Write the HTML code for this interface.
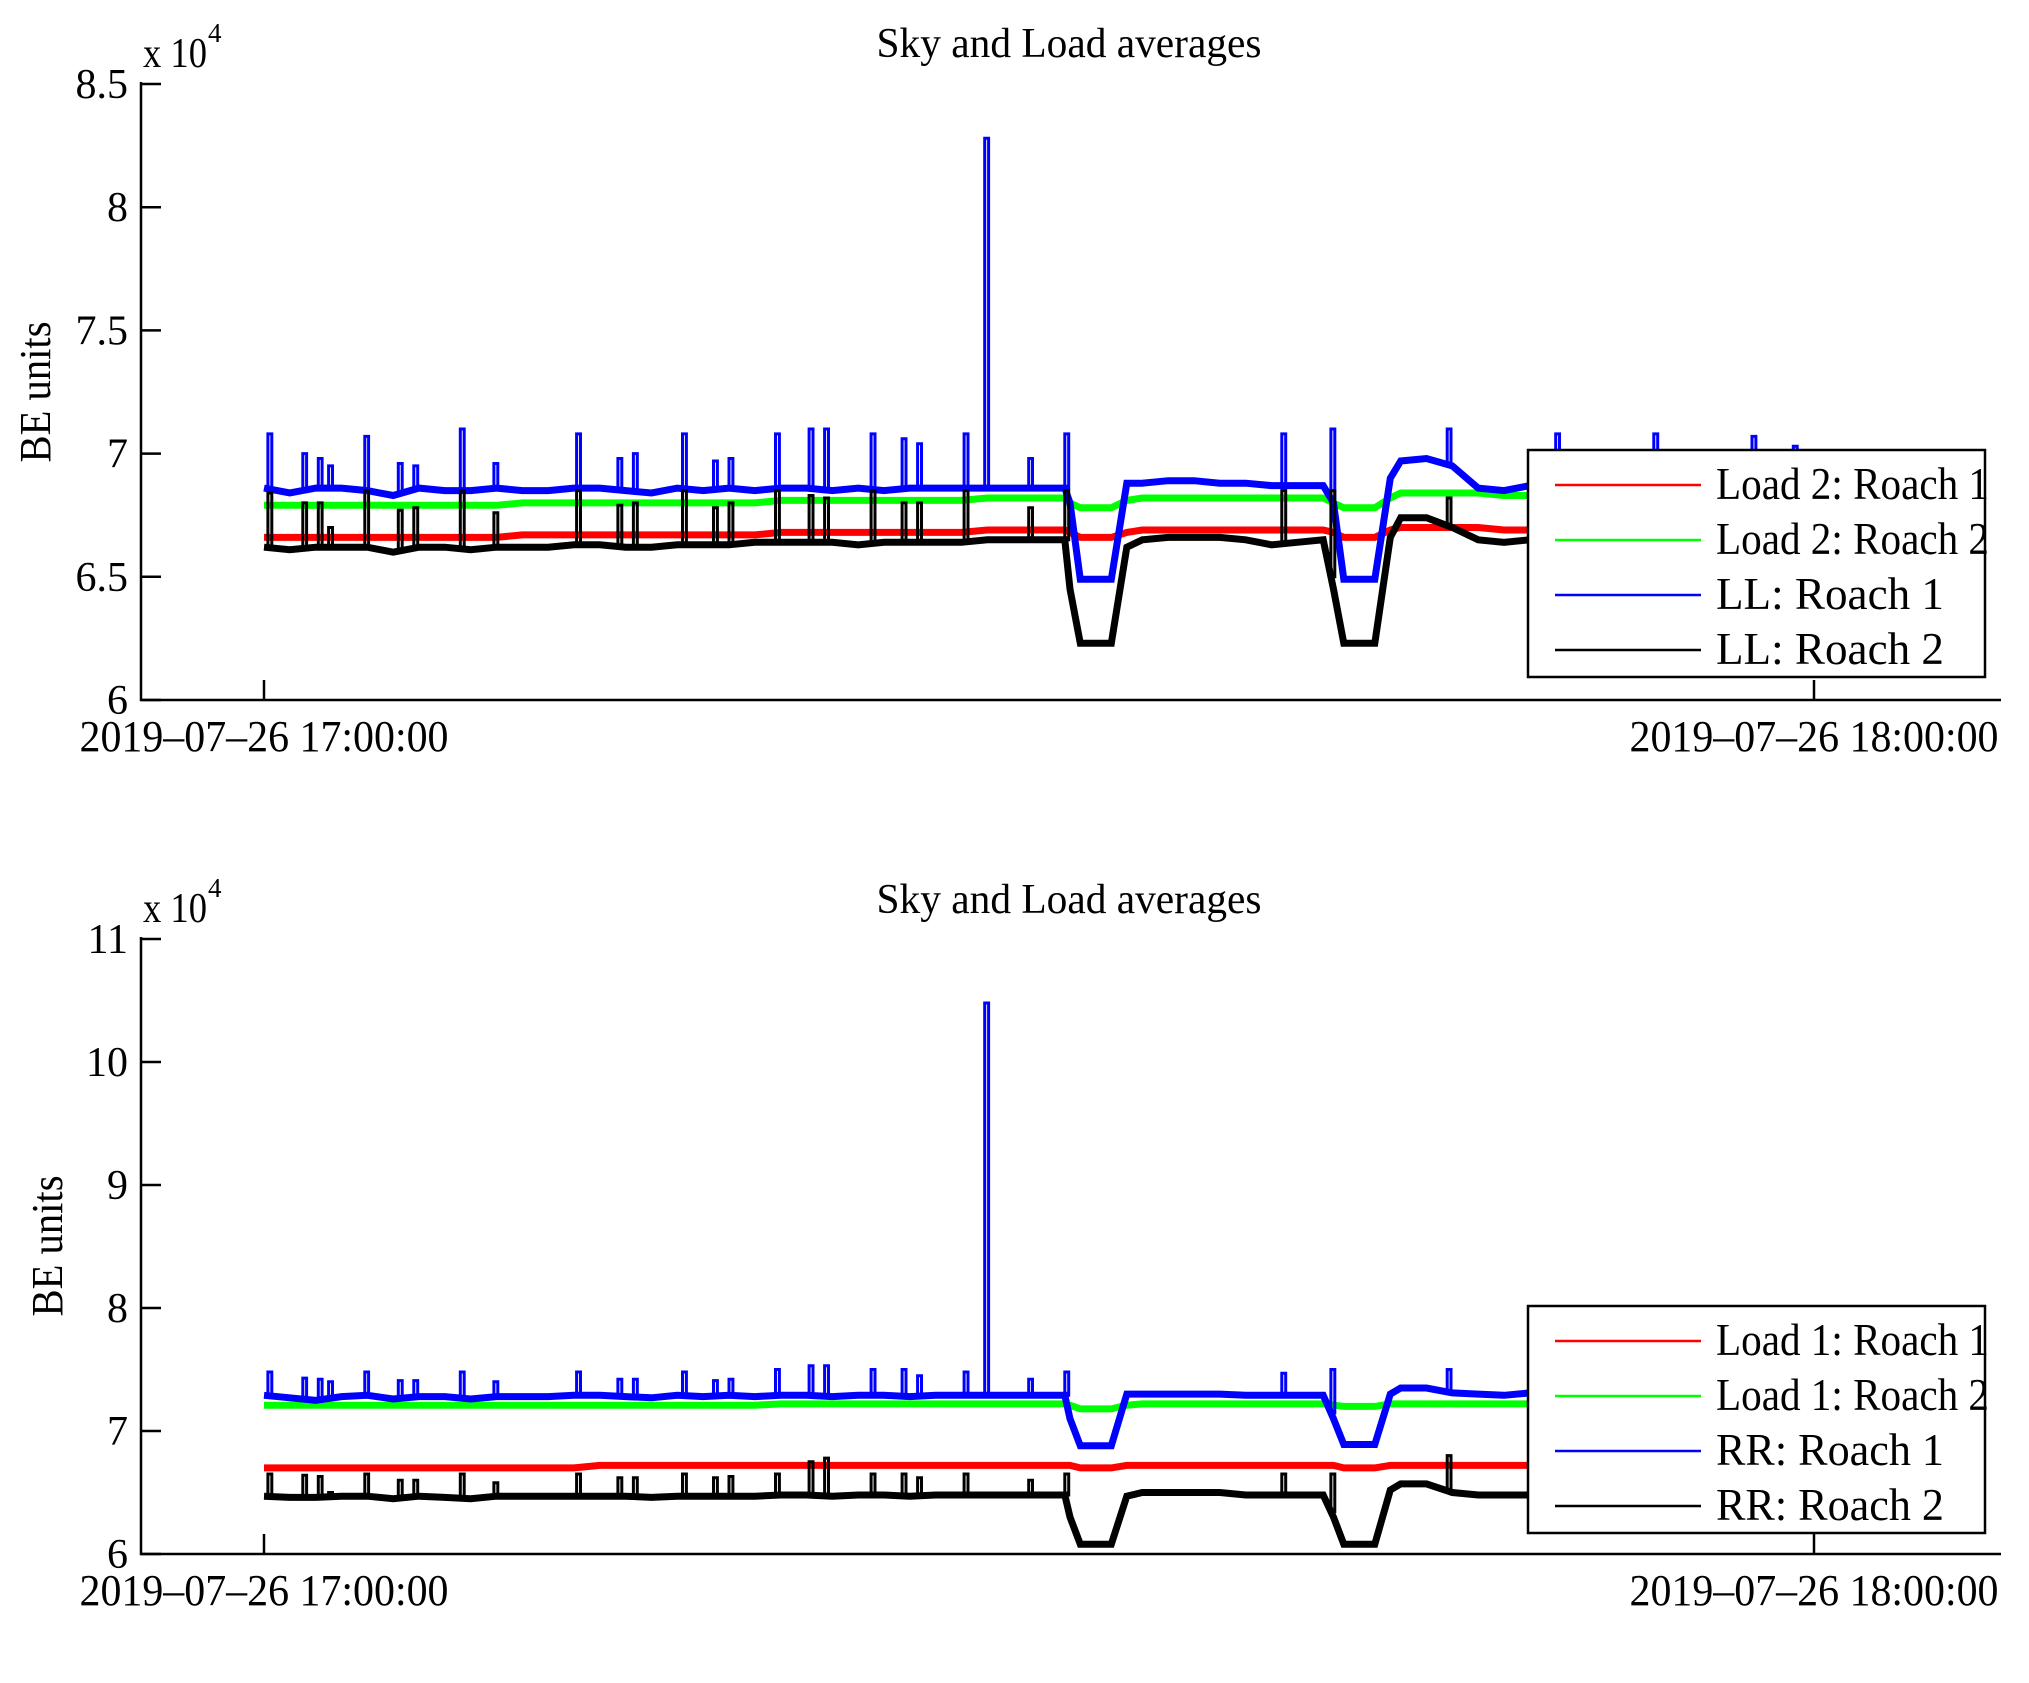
<!DOCTYPE html>
<html><head><meta charset="utf-8"><style>
html,body{margin:0;padding:0;background:#fff}
svg{display:block}
text{font-family:"Liberation Serif",serif;fill:#000}
</style></head><body>
<svg id="fig" width="2029" height="1683" viewBox="0 0 2029 1683"></svg>
<script>
// ---- shared time axis (minutes after 17:00) ----
const times = [0,1,2,3,4,5,6,7,8,9,10,11,12,13,14,15,16,17,18,19,20,21,22,23,24,25,26,27,28,29,30,31,
 31.2,31.6,32.8,33.4, 34,35,36,37,38,39,40,41, 41.4,41.8,43.0,43.6,
 44,45,46,47,48,49,50,51,52,53,54,55,56,57,58,59, 59.3];
const spikeTimes = [0.15,1.5,2.1,2.5,3.9,5.2,5.8,7.6,8.9,12.1,13.7,14.3,16.2,17.4,18.0,19.8,21.1,21.7,23.5,24.7,25.3,27.1,27.9,29.6,31.0,39.4,41.3,45.8,50.0,53.8,57.6,59.2];
const xTickLabels = ["2019\u201307\u201326 17:00:00","2019\u201307\u201326 18:00:00"];
const xTickValues = [0,60];

// ---- top panel values (x 10^4) ----
const topRed = [6.66,6.66,6.66,6.66,6.66,6.66,6.66,6.66,6.66,6.66,6.67,6.67,6.67,6.67,6.67,6.67,6.67,6.67,6.67,6.67,6.68,6.68,6.68,6.68,6.68,6.68,6.68,6.68,6.69,6.69,6.69,6.69,
 6.68,6.66,6.66,6.68, 6.69,6.69,6.69,6.69,6.69,6.69,6.69,6.69, 6.68,6.66,6.66,6.69,
 6.70,6.70,6.70,6.70,6.69,6.69,6.69,6.69,6.69,6.69,6.69,6.69,6.69,6.69,6.69,6.69, 6.69];
const topGreen = [6.79,6.79,6.79,6.79,6.79,6.79,6.79,6.79,6.79,6.79,6.80,6.80,6.80,6.80,6.80,6.80,6.80,6.80,6.80,6.80,6.81,6.81,6.81,6.81,6.81,6.81,6.81,6.81,6.82,6.82,6.82,6.82,
 6.80,6.78,6.78,6.81, 6.82,6.82,6.82,6.82,6.82,6.82,6.82,6.82, 6.80,6.78,6.78,6.82,
 6.84,6.84,6.84,6.84,6.83,6.83,6.83,6.83,6.83,6.83,6.83,6.83,6.83,6.83,6.83,6.83, 6.83];
const topBlue = [6.86,6.84,6.86,6.86,6.85,6.83,6.86,6.85,6.85,6.86,6.85,6.85,6.86,6.86,6.85,6.84,6.86,6.85,6.86,6.85,6.86,6.86,6.85,6.86,6.85,6.86,6.86,6.86,6.86,6.86,6.86,6.86,
 6.80,6.49,6.49,6.88, 6.88,6.89,6.89,6.88,6.88,6.87,6.87,6.87, 6.80,6.49,6.49,6.90,
 6.97,6.98,6.95,6.86,6.85,6.87,6.86,6.88,6.86,6.86,6.87,6.86,6.86,6.85,6.86,6.86, 6.86];
const topBlack = [6.62,6.61,6.62,6.62,6.62,6.60,6.62,6.62,6.61,6.62,6.62,6.62,6.63,6.63,6.62,6.62,6.63,6.63,6.63,6.64,6.64,6.64,6.64,6.63,6.64,6.64,6.64,6.64,6.65,6.65,6.65,6.65,
 6.45,6.23,6.23,6.62, 6.65,6.66,6.66,6.66,6.65,6.63,6.64,6.65, 6.45,6.23,6.23,6.66,
 6.74,6.74,6.70,6.65,6.64,6.65,6.65,6.66,6.65,6.65,6.65,6.64,6.64,6.64,6.64,6.64, 6.64];
const topBlueSpikes = [7.08,7.00,6.98,6.95,7.07,6.96,6.95,7.10,6.96,7.08,6.98,7.00,7.08,6.97,6.98,7.08,7.10,7.10,7.08,7.06,7.04,7.08,8.28,6.98,7.08,7.08,7.10,7.10,7.08,7.08,7.07,7.03];
const topBlackSpikes = [6.84,6.80,6.80,6.70,6.85,6.77,6.78,6.85,6.76,6.85,6.79,6.80,6.85,6.78,6.80,6.85,6.83,6.82,6.85,6.80,6.80,6.85,6.65,6.78,6.85,6.85,6.85,6.82,6.70,6.70,6.70,6.68];

// ---- bottom panel values (x 10^4) ----
const botRed = [6.70,6.70,6.70,6.70,6.70,6.70,6.70,6.70,6.70,6.70,6.70,6.70,6.70,6.72,6.72,6.72,6.72,6.72,6.72,6.72,6.72,6.72,6.72,6.72,6.72,6.72,6.72,6.72,6.72,6.72,6.72,6.72,
 6.72,6.70,6.70,6.72, 6.72,6.72,6.72,6.72,6.72,6.72,6.72,6.72, 6.72,6.70,6.70,6.72,
 6.72,6.72,6.72,6.72,6.72,6.72,6.72,6.72,6.72,6.72,6.72,6.72,6.72,6.72,6.73,6.74, 6.74];
const botGreen = [7.21,7.21,7.21,7.21,7.21,7.21,7.21,7.21,7.21,7.21,7.21,7.21,7.21,7.21,7.21,7.21,7.21,7.21,7.21,7.21,7.22,7.22,7.22,7.22,7.22,7.22,7.22,7.22,7.22,7.22,7.22,7.22,
 7.21,7.18,7.18,7.21, 7.22,7.22,7.22,7.22,7.22,7.22,7.22,7.22, 7.21,7.20,7.20,7.22,
 7.22,7.22,7.22,7.22,7.22,7.22,7.22,7.22,7.22,7.22,7.22,7.22,7.22,7.22,7.22,7.22, 7.22];
const botBlue = [7.29,7.27,7.25,7.28,7.29,7.26,7.28,7.28,7.26,7.28,7.28,7.28,7.29,7.29,7.28,7.27,7.29,7.28,7.29,7.28,7.29,7.29,7.28,7.29,7.29,7.28,7.29,7.29,7.29,7.29,7.29,7.29,
 7.10,6.88,6.88,7.30, 7.30,7.30,7.30,7.30,7.29,7.29,7.29,7.29, 7.10,6.89,6.89,7.30,
 7.35,7.35,7.31,7.30,7.29,7.31,7.32,7.31,7.31,7.31,7.30,7.31,7.31,7.31,7.31,7.31, 7.31];
const botBlack = [6.47,6.46,6.46,6.47,6.47,6.45,6.47,6.46,6.45,6.47,6.47,6.47,6.47,6.47,6.47,6.46,6.47,6.47,6.47,6.47,6.48,6.48,6.47,6.48,6.48,6.47,6.48,6.48,6.48,6.48,6.48,6.48,
 6.30,6.08,6.08,6.47, 6.50,6.50,6.50,6.50,6.48,6.48,6.48,6.48, 6.30,6.08,6.08,6.52,
 6.57,6.57,6.50,6.48,6.48,6.48,6.48,6.48,6.48,6.48,6.48,6.48,6.48,6.48,6.48,6.48, 6.48];
const botBlueSpikes = [7.48,7.43,7.42,7.40,7.48,7.41,7.41,7.48,7.40,7.48,7.42,7.42,7.48,7.41,7.42,7.50,7.53,7.53,7.50,7.50,7.45,7.48,10.48,7.42,7.48,7.47,7.50,7.50,7.42,7.40,7.40,7.38];
const botBlackSpikes = [6.65,6.64,6.63,6.50,6.65,6.60,6.60,6.65,6.58,6.65,6.62,6.62,6.65,6.62,6.63,6.65,6.75,6.78,6.65,6.65,6.62,6.65,6.48,6.60,6.65,6.65,6.65,6.80,6.58,6.56,6.56,6.55];

const topTicks = [6,6.5,7,7.5,8,8.5];
const topTickLabels = ["6","6.5","7","7.5","8","8.5"];
const botTicks = [6,7,8,9,10,11];
const botTickLabels = ["6","7","8","9","10","11"];
const topLegend = ["Load 2: Roach 1","Load 2: Roach 2","LL: Roach 1","LL: Roach 2"];
const botLegend = ["Load 1: Roach 1","Load 1: Roach 2","RR: Roach 1","RR: Roach 2"];
const colors = ["#ff0000","#00ff00","#0000ff","#000000"];

const NS = "http://www.w3.org/2000/svg";
const svg = document.getElementById("fig");
function mk(tag, attrs, parent){
  const e = document.createElementNS(NS, tag);
  for (const k in attrs) e.setAttribute(k, attrs[k]);
  (parent||svg).appendChild(e);
  return e;
}
const X0 = 264, PXMIN = 1550/60;
function xs(t){ return X0 + t*PXMIN; }
function interp(arr, t){
  for (let i=0;i<times.length-1;i++){
    if (t>=times[i] && t<=times[i+1]){
      const f=(t-times[i])/(times[i+1]-times[i]);
      return arr[i]+f*(arr[i+1]-arr[i]);
    }
  }
  return arr[arr.length-1];
}

function panel(p){
  const g = mk("g", {});
  
  
  const ys = v => p.yBot - (v - p.yMin) * p.pxPerUnit;
  const title = mk("text", {x:1069, y:p.titleY, "font-size":42, "text-anchor":"middle", textLength:385, lengthAdjust:"spacingAndGlyphs"}, g);
  title.textContent = "Sky and Load averages";
  
  
  const series = [p.red, p.green, p.blue, p.black];
  const sg = mk("g", {}, g);
  
  
  series.forEach((arr, si) => {
    let d = "";
    arr.forEach((v,i)=>{ d += (i?"L":"M") + xs(times[i]).toFixed(1) + " " + ys(v).toFixed(1); });
    const pl = mk("path", {d:d, fill:"none", stroke:colors[si], "stroke-width":7, "stroke-linejoin":"miter"}, sg);
    
    
  });
  [[p.blue,p.blueSpikes,2],[p.black,p.blackSpikes,3]].forEach(([base,sp,ci])=>{
    let d="";
    spikeTimes.forEach((t,i)=>{
      const b = ys(interp(base,t)), pk = ys(sp[i]);
      d += "M"+xs(t).toFixed(1)+" "+b.toFixed(1)+"V"+pk.toFixed(1)+"H"+xs(t+0.15).toFixed(1)+"V"+b.toFixed(1);
    });
    const sp2 = mk("path", {d:d, fill:"none", stroke:colors[ci], "stroke-width":3, "stroke-linecap":"square"}, sg);
    
    
  });
  const ax = mk("path", {d:"M141 "+(p.yTop-2)+"V"+p.yBot+"H2001", fill:"none", stroke:"#000", "stroke-width":2.5}, g);
  
  
  p.ticks.forEach((v,i)=>{
    const y = ys(v);
    const tk = mk("line", {x1:141, x2:161, y1:y, y2:y, stroke:"#000", "stroke-width":2.5}, g);
    
    
    const lb = mk("text", {x:128, y:y+14, "font-size":42, "text-anchor":"end"}, g);
    lb.textContent = p.tickLabels[i];
    
    
  });
  xTickValues.forEach((t,i)=>{
    const x = xs(t);
    const tk = mk("line", {x1:x, x2:x, y1:p.yBot, y2:p.yBot-20, stroke:"#000", "stroke-width":2.5}, g);
    
    
    const lb = mk("text", {x:x, y:p.yBot+51, "font-size":44, "text-anchor":"middle", textLength:369, lengthAdjust:"spacingAndGlyphs"}, g);
    lb.textContent = xTickLabels[i];
    
    
  });
  const ex = mk("text", {x:143, y:p.yTop-17, "font-size":42, textLength:64, lengthAdjust:"spacingAndGlyphs"}, g);
  ex.textContent = "x 10";
  
  
  const ex2 = mk("text", {x:208, y:p.yTop-42, "font-size":27}, g);
  ex2.textContent = "4";
  
  
  const yl = mk("text", {x:0, y:0, "font-size":44, "text-anchor":"middle", textLength:141, lengthAdjust:"spacingAndGlyphs", transform:"translate("+p.ylabX+" "+p.ylabY+") rotate(-90)"}, g);
  yl.textContent = "BE units";
  
  
  const lg = mk("g", {}, g);
  
  
  const box = mk("rect", {x:1528, y:p.legTop, width:457, height:227, fill:"#fff", stroke:"#000", "stroke-width":2.5}, lg);
  
  
  p.legend.forEach((name,i)=>{
    const cy = p.legTop + 35 + i*55;
    const ln = mk("line", {x1:1555, x2:1701, y1:cy, y2:cy, stroke:colors[i], "stroke-width":2.5}, lg);
    
    
    const tx = mk("text", {x:1716, y:cy+14, "font-size":45, textLength:name.length>12?273:228, lengthAdjust:"spacingAndGlyphs"}, lg);
    tx.textContent = name;
    
    
  });
}

panel({name:"top-chart", yMin:6, yBot:700, yTop:84, pxPerUnit:(700-84)/2.5, titleY:57,
  red:topRed, green:topGreen, blue:topBlue, black:topBlack, blueSpikes:topBlueSpikes, blackSpikes:topBlackSpikes,
  ticks:topTicks, tickLabels:topTickLabels, legend:topLegend, legTop:450, ylabX:50, ylabY:392});
panel({name:"bottom-chart", yMin:6, yBot:1554, yTop:939, pxPerUnit:(1554-939)/5, titleY:913,
  red:botRed, green:botGreen, blue:botBlue, black:botBlack, blueSpikes:botBlueSpikes, blackSpikes:botBlackSpikes,
  ticks:botTicks, tickLabels:botTickLabels, legend:botLegend, legTop:1306, ylabX:62, ylabY:1246});
</script>
</body></html>
